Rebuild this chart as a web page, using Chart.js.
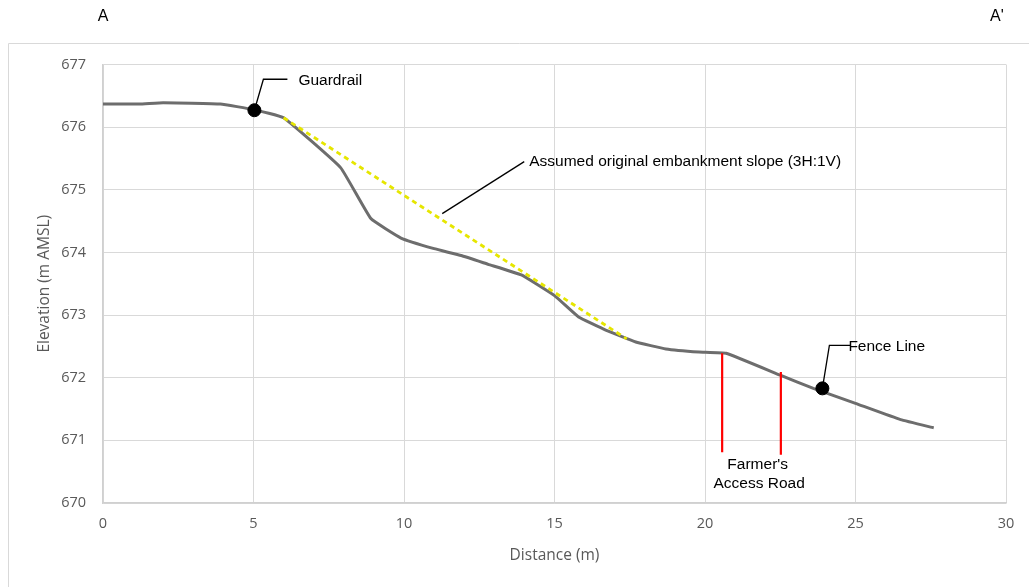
<!DOCTYPE html>
<html>
<head>
<meta charset="utf-8">
<script src="https://cdn.jsdelivr.net/npm/chart.js@4"></script>
<style>
html,body{margin:0;padding:0;background:#fff;}
#wrap{position:relative;width:1029px;height:587px;}
canvas{display:block;}
</style>
</head>
<body>
<div id="wrap"><canvas id="c" width="1029" height="587"></canvas></div>
<script>
// ---- data ----
const groundX = [0, 1.2, 2.0, 3.9, 5.0, 6.0, 7.9, 8.9, 9.9, 11.0, 11.9, 12.8, 13.9, 15.0, 15.8, 16.7, 17.7, 18.7, 19.8, 20.7, 22.5, 23.6, 25.0, 26.5, 27.6];
const groundY = [676.37, 676.37, 676.39, 676.37, 676.28, 676.15, 675.35, 674.54, 674.23, 674.06, 673.95, 673.81, 673.64, 673.31, 672.97, 672.76, 672.57, 672.46, 672.41, 672.39, 672.04, 671.83, 671.59, 671.33, 671.20];
const slopeX = [6.0, 17.4];
const slopeY = [676.15, 672.62];
const roadLine1X = [20.57, 20.57];
const roadLine1Y = [672.39, 670.81];
const roadLine2X = [22.52, 22.52];
const roadLine2Y = [672.09, 670.77];
const markerX = [5.03, 23.9];
const markerY = [676.27, 671.83];
const xTicks = [0, 5, 10, 15, 20, 25, 30];
const yTicks = [670, 671, 672, 673, 674, 675, 676, 677];
const xTitle = 'Distance (m)';
const yTitle = 'Elevation (m AMSL)';
const sectionStart = 'A';
const sectionEnd = "A'";
const labelGuardrail = 'Guardrail';
const labelSlope = 'Assumed original embankment slope (3H:1V)';
const labelFence = 'Fence Line';
const labelRoad = ["Farmer's", 'Access Road'];

const pts = (xs, ys) => xs.map((x, i) => ({x: x, y: ys[i]}));

const overlay = {
  id: 'overlay',
  beforeDraw(chart) {
    const ctx = chart.ctx;
    ctx.save();
    ctx.strokeStyle = '#d9d9d9';
    ctx.lineWidth = 1;
    ctx.beginPath();
    ctx.moveTo(8.5, 600);
    ctx.lineTo(8.5, 43.5);
    ctx.lineTo(1040, 43.5);
    ctx.stroke();
    ctx.restore();
  },
  afterDraw(chart) {
    const ctx = chart.ctx;
    const xs = chart.scales.x, ys = chart.scales.y;
    const X = v => xs.getPixelForValue(v), Y = v => ys.getPixelForValue(v);
    ctx.save();
    ctx.fillStyle = '#000';
    ctx.textBaseline = 'middle';
    ctx.font = '16px "Liberation Sans", Arial, sans-serif';
    ctx.textAlign = 'center';
    ctx.fillText(sectionStart, X(0), 17);
    ctx.fillText(sectionEnd, X(29.7), 17);

    ctx.strokeStyle = '#000';
    ctx.lineWidth = 1.3;
    // Guardrail leader
    let gx = X(markerX[0]), gy = Y(markerY[0]);
    ctx.beginPath();
    ctx.moveTo(gx, gy);
    ctx.lineTo(gx + 9, gy - 31);
    ctx.lineTo(gx + 33, gy - 31);
    ctx.stroke();
    ctx.textAlign = 'left';
    ctx.font = '15.5px "Liberation Sans", Arial, sans-serif';
    ctx.fillText(labelGuardrail, gx + 44, gy - 30);

    // slope leader
    const sx = X(11.27), sy = Y(674.62);
    ctx.beginPath();
    ctx.moveTo(sx, sy);
    ctx.lineTo(sx + 82, sy - 52);
    ctx.stroke();
    ctx.fillText(labelSlope, sx + 87, sy - 52);

    // Fence leader
    let fx = X(markerX[1]), fy = Y(markerY[1]);
    ctx.beginPath();
    ctx.moveTo(fx, fy);
    ctx.lineTo(fx + 7, fy - 43);
    ctx.lineTo(fx + 28, fy - 43);
    ctx.stroke();
    ctx.fillText(labelFence, fx + 26, fy - 42);

    // Road label
    ctx.textAlign = 'center';
    ctx.fillText(labelRoad[0], X(21.75), Y(670.61));
    ctx.fillText(labelRoad[1], X(21.8), Y(670.31));
    ctx.restore();
  }
};

new Chart(document.getElementById('c'), {
  type: 'scatter',
  data: {
    datasets: [
      {data: pts(markerX, markerY), showLine: false, pointRadius: 6.5, pointBackgroundColor: '#000', pointBorderColor: '#000', order: 0},
      {data: pts(groundX, groundY), showLine: true, borderColor: '#6d6d6d', borderWidth: 3, pointRadius: 0, tension: 0.1, order: 3},
      {data: pts(slopeX, slopeY), showLine: true, borderColor: '#e6e600', borderWidth: 2.8, borderDash: [5, 4], pointRadius: 0, order: 2},
      {data: pts(roadLine1X, roadLine1Y), showLine: true, borderColor: '#ff0000', borderWidth: 2.2, pointRadius: 0, order: 1},
      {data: pts(roadLine2X, roadLine2Y), showLine: true, borderColor: '#ff0000', borderWidth: 2.2, pointRadius: 0, order: 1}
    ]
  },
  options: {
    responsive: false,
    animation: false,
    devicePixelRatio: 1,
    layout: {padding: {top: 64.5, right: 23, left: 0, bottom: 0}},
    plugins: {legend: {display: false}, tooltip: {enabled: false}},
    scales: {
      x: {
        type: 'linear', min: 0, max: 30,
        afterBuildTicks: s => { s.ticks = xTicks.map(v => ({value: v})); },
        afterFit: s => { s.height = 84; },
        grid: {color: '#d9d9d9', lineWidth: 1, drawTicks: false},
        border: {color: '#d0d0d0', width: 1.5},
        ticks: {color: '#595959', font: {family: '"Open Sans", sans-serif', size: 14.5}, padding: 12, maxRotation: 0},
        title: {display: true, text: xTitle, color: '#595959', font: {family: '"Open Sans", sans-serif', size: 15.5}, padding: {top: 0, bottom: 22}}
      },
      y: {
        type: 'linear', min: 670, max: 677,
        afterBuildTicks: s => { s.ticks = yTicks.map(v => ({value: v})); },
        afterFit: s => { s.width = 103; },
        grid: {color: '#d9d9d9', lineWidth: 1, drawTicks: false},
        border: {color: '#d0d0d0', width: 1.5},
        ticks: {color: '#595959', font: {family: '"Open Sans", sans-serif', size: 14.5}, padding: 17},
        title: {display: true, text: yTitle, color: '#595959', font: {family: '"Open Sans", sans-serif', size: 15.5}, padding: {top: 35, bottom: 0}}
      }
    }
  },
  plugins: [overlay]
});
</script>
</body>
</html>
